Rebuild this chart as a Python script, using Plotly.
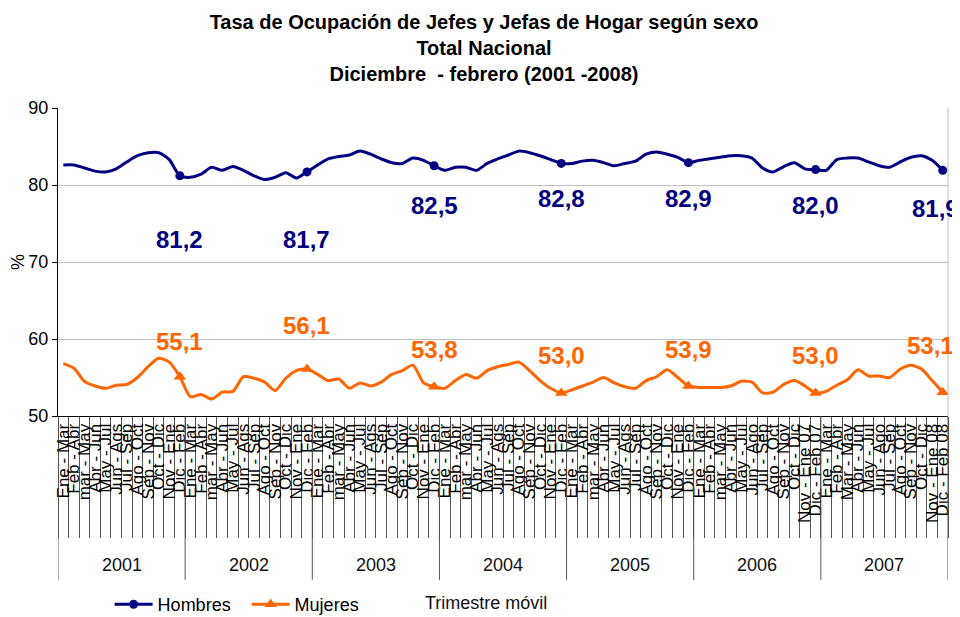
import plotly.graph_objects as go

# ---------------- data ----------------
years = ["2001", "2002", "2003", "2004", "2005", "2006", "2007"]

labels_2001 = ["Ene - Mar", "Feb - Abr", "mar - May", "Abr - Jun", "May - Jul", "Jun - Ags",
               "Jul - Sep", "Ago - Oct", "Sep - Nov", "Oct - Dic", "Nov - Ene", "Dic - Feb"]
labels_2002 = labels_2001
labels_2003 = labels_2001
labels_2004 = labels_2001
labels_2005 = labels_2001
labels_2006 = ["Ene - Mar", "Feb - Abr", "mar - May", "Abr - Jun", "May - Jul", "Jun - Ago",
               "Jul - Sep", "Ago - Oct", "Sep - Nov", "Oct - Dic", "Nov - Ene 07", "Dic - Feb 07"]
labels_2007 = ["Ene - Mar", "Feb - Abr", "Mar - May", "Abr - Jun", "May - Jul", "Jun - Ago",
               "Jul - Sep", "Ago - Oct", "Sep - Nov", "Oct - Dic", "Nov - Ene 08", "Dic - Feb 08"]
tick_labels = (labels_2001 + labels_2002 + labels_2003 + labels_2004 +
               labels_2005 + labels_2006 + labels_2007)

hombres = [82.6, 82.6, 82.2, 81.8, 81.7, 82.1, 83.0, 83.8, 84.2, 84.2, 83.3, 81.2,
           81.0, 81.4, 82.3, 81.9, 82.4, 81.9, 81.2, 80.7, 81.0, 81.6, 80.9, 81.7,
           82.6, 83.4, 83.7, 83.9, 84.4, 84.0, 83.4, 82.9, 82.8, 83.5, 83.2, 82.5,
           81.9, 82.3, 82.3, 81.9, 82.8, 83.4, 83.9, 84.4, 84.2, 83.8, 83.3, 82.8,
           82.8, 83.1, 83.2, 82.9, 82.5, 82.8, 83.1, 84.0, 84.3, 84.0, 83.6, 82.9,
           83.2, 83.4, 83.6, 83.8, 83.8, 83.5, 82.2, 81.7, 82.4, 82.9, 82.1, 82.0,
           81.9, 83.3, 83.5, 83.5, 83.0, 82.5, 82.3, 83.0, 83.6, 83.8, 83.2, 81.9]

mujeres = [56.8, 56.2, 54.5, 53.9, 53.6, 54.0, 54.1, 55.0, 56.4, 57.5, 57.0, 55.1,
           52.5, 52.8, 52.2, 53.1, 53.2, 55.1, 54.9, 54.4, 53.3, 54.9, 55.9, 56.1,
           55.4, 54.6, 54.8, 53.6, 54.3, 53.9, 54.4, 55.4, 55.9, 56.6, 54.3, 53.8,
           53.6, 54.6, 55.4, 54.9, 55.9, 56.4, 56.7, 57.0, 55.9, 54.6, 53.6, 53.0,
           53.4, 53.9, 54.4, 55.0, 54.3, 53.8, 53.6, 54.6, 55.1, 56.0, 55.0, 53.9,
           53.7, 53.7, 53.7, 53.9, 54.5, 54.4, 53.0, 53.1, 54.1, 54.6, 53.9, 53.0,
           53.2, 54.0, 54.7, 56.0, 55.2, 55.2, 55.0, 56.1, 56.6, 56.1, 54.6, 53.1]

# positions of the labelled "Dic - Feb" points
marker_idx = [11, 23, 35, 47, 59, 71, 83]
# label placement (data units) and horizontal nudges (px)
hombres_label_y = [72.9, 72.9, 77.4, 78.2, 78.2, 77.4, 76.9]
mujeres_label_y = [59.7, 61.8, 58.6, 57.9, 58.7, 57.8, 59.1]
hombres_label_dx = [0, 0, 0, 0, 0, 0, -7]
mujeres_label_dx = [0, 0, 0, 0, 0, 0, -12]

NAVY = "#000080"
ORANGE = "#FF6600"
FONT = "Liberation Sans, Arial, sans-serif"

x_idx = list(range(len(tick_labels)))

fig = go.Figure()
fig.add_trace(go.Scatter(
    x=x_idx, y=hombres, name="Hombres", mode="lines+markers",
    line=dict(color=NAVY, width=3, shape="spline", smoothing=0.7),
    marker=dict(symbol="circle", size=9, color=NAVY),
    selectedpoints=marker_idx,
    selected=dict(marker=dict(opacity=1)),
    unselected=dict(marker=dict(opacity=0)),
    cliponaxis=False,
))
fig.add_trace(go.Scatter(
    x=x_idx, y=mujeres, name="Mujeres", mode="lines+markers",
    line=dict(color=ORANGE, width=3, shape="spline", smoothing=0.7),
    marker=dict(symbol="triangle-up", size=11, color=ORANGE),
    selectedpoints=marker_idx,
    selected=dict(marker=dict(opacity=1)),
    unselected=dict(marker=dict(opacity=0)),
    cliponaxis=False,
))

annotations = []
for k, i in enumerate(marker_idx):
    annotations.append(dict(
        x=i, y=hombres_label_y[k], xref="x", yref="y",
        text=f"{hombres[i]:.1f}".replace(".", ","), showarrow=False,
        xshift=hombres_label_dx[k],
        font=dict(family=FONT, size=24, color=NAVY, weight="bold")))
    annotations.append(dict(
        x=i, y=mujeres_label_y[k], xref="x", yref="y",
        text=f"{mujeres[i]:.1f}".replace(".", ","), showarrow=False,
        xshift=mujeres_label_dx[k],
        font=dict(family=FONT, size=24, color=ORANGE, weight="bold")))

n_per_year = len(labels_2001)
shapes = []
for k in range(len(years) + 1):
    shapes.append(dict(type="line", xref="x", yref="paper",
                       x0=k * n_per_year - 0.5, x1=k * n_per_year - 0.5,
                       y0=0, y1=-0.532, line=dict(color="#555555", width=1)))
for k, yr in enumerate(years):
    annotations.append(dict(
        x=k * n_per_year + (n_per_year - 1) / 2, y=-0.484, xref="x", yref="paper",
        text=yr, showarrow=False, yanchor="middle",
        font=dict(family=FONT, size=18, color="#111111")))
annotations.append(dict(
    x=0.481, y=-0.607, xref="paper", yref="paper", text="Trimestre móvil",
    showarrow=False, yanchor="middle",
    font=dict(family=FONT, size=18, color="#111111")))

shapes.append(dict(type="line", xref="paper", yref="paper", x0=1, x1=1, y0=0, y1=1,
                   line=dict(color="#c0c0c0", width=1)))

fig.update_layout(
    width=952, height=609,
    paper_bgcolor="white", plot_bgcolor="white",
    margin=dict(l=50, r=12, t=100, b=201, autoexpand=False),
    font=dict(family=FONT, color="black"),
    title=dict(
        text="Tasa de Ocupación de Jefes y Jefas de Hogar según sexo<br>Total Nacional<br>Diciembre \u00a0- febrero (2001 -2008)",
        x=0.5, xref="container", xanchor="center",
        y=0.966, yref="container", yanchor="top",
        font=dict(family=FONT, size=20, color="black", weight="bold")),
    xaxis=dict(
        range=[-0.5, len(tick_labels) - 0.5],
        tickmode="array", tickvals=x_idx, ticktext=tick_labels,
        tickangle=-90, ticks="", showline=True, linecolor="black", linewidth=1,
        showgrid=False, zeroline=False, automargin=False,
        tickfont=dict(family=FONT, size=17, color="black"),
        minor=dict(tickmode="array", tickvals=[i - 0.5 for i in range(len(tick_labels) + 1)],
                   ticks="outside", ticklen=121, tickcolor="#555555", tickwidth=1,
                   showgrid=False),
    ),
    yaxis=dict(
        range=[50, 90], dtick=10, showline=True, linecolor="black", linewidth=1,
        ticks="outside", ticklen=5, tickcolor="black",
        showgrid=True, gridcolor="#c0c0c0", gridwidth=1, zeroline=False,
        automargin=False,
        tickfont=dict(family=FONT, size=18, color="black"),
        title=dict(text="%", font=dict(family=FONT, size=18, color="black"), standoff=8),
    ),
    legend=dict(orientation="h", x=0.058, xanchor="left", y=-0.612, yanchor="middle",
                itemwidth=38, entrywidth=84, entrywidthmode="pixels",
                font=dict(family=FONT, size=18, color="black"),
                bgcolor="rgba(0,0,0,0)"),
    annotations=annotations,
    shapes=shapes,
    showlegend=True,
)

fig.write_html("out.html", config={"responsive": False})
